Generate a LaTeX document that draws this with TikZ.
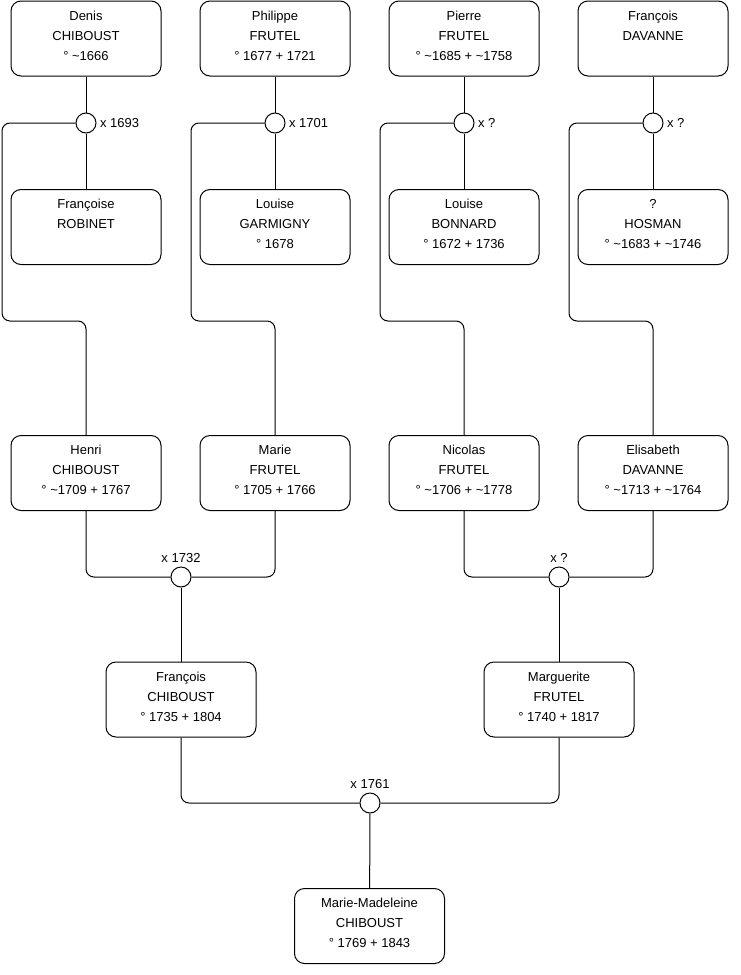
\documentclass[tikz,border=0pt]{standalone}
\usepackage{fontspec}
\setmainfont{Liberation Sans}
\usepackage{tikz}
\newcommand{\abt}{\textasciitilde}
\newcommand{\fiche}[3]{%
  \begin{minipage}[c][75pt][t]{150pt}
  \centering\rule{0pt}{19pt}#1\\#2\\#3
  \end{minipage}}
\tikzset{
  individu/.style={draw, rounded corners=10pt, inner sep=0pt, line width=1pt},
  union/.style={draw, circle, minimum size=20pt, inner sep=0pt, fill=white, line width=1pt},
  lien/.style={line width=1pt, rounded corners=8pt},
}

\begin{document}
\begin{tikzpicture}[x=1pt, y=-1pt, font=\fontsize{13}{20}\selectfont]
\useasboundingbox (0,0) rectangle (740,975);
% generation 1
\node[individu] (denis) at (86,38.5) {\fiche{Denis}{CHIBOUST}{° \abt1666}};
\node[individu] (philippe) at (275,38.5) {\fiche{Philippe}{FRUTEL}{° 1677 + 1721}};
\node[individu] (pierre) at (464,38.5) {\fiche{Pierre}{FRUTEL}{° \abt1685 + \abt1758}};
\node[individu] (francoisd) at (653,38.5) {\fiche{François}{DAVANNE}{}};
% unions
\node[union, label={right:x 1693}] (u1) at (86,123) {};
\node[union, label={right:x 1701}] (u2) at (275,123) {};
\node[union, label={right:x ?}] (u3) at (464,123) {};
\node[union, label={right:x ?}] (u4) at (653,123) {};
% spouses
\node[individu] (francoise) at (86,227) {\fiche{Françoise}{ROBINET}{}};
\node[individu] (louiseg) at (275,227) {\fiche{Louise}{GARMIGNY}{° 1678}};
\node[individu] (louiseb) at (464,227) {\fiche{Louise}{BONNARD}{° 1672 + 1736}};
\node[individu] (hosman) at (653,227) {\fiche{?}{HOSMAN}{° \abt1683 + \abt1746}};
% generation 2
\node[individu] (henri) at (86,473) {\fiche{Henri}{CHIBOUST}{° \abt1709 + 1767}};
\node[individu] (marie) at (275,473) {\fiche{Marie}{FRUTEL}{° 1705 + 1766}};
\node[individu] (nicolas) at (464,473) {\fiche{Nicolas}{FRUTEL}{° \abt1706 + \abt1778}};
\node[individu] (elisabeth) at (653,473) {\fiche{Elisabeth}{DAVANNE}{° \abt1713 + \abt1764}};
\node[union, label={above:x 1732}] (u5) at (181,577) {};
\node[union, label={above:x ?}] (u6) at (559,577) {};
% generation 3
\node[individu] (francoisc) at (181,699.5) {\fiche{François}{CHIBOUST}{° 1735 + 1804}};
\node[individu] (marguerite) at (559,699.5) {\fiche{Marguerite}{FRUTEL}{° 1740 + 1817}};
\node[union, label={above:x 1761}] (u7) at (370,803) {};
% generation 4
\node[individu] (mariemad) at (369.5,926) {\fiche{Marie-Madeleine}{CHIBOUST}{° 1769 + 1843}};

% bends of the child lines
\coordinate (k1) at (2,321);
\coordinate (k2) at (191,321);
\coordinate (k3) at (380,321);
\coordinate (k4) at (569,321);

\draw[lien] (denis) -- (u1) -- (francoise);
\draw[lien] (philippe) -- (u2) -- (louiseg);
\draw[lien] (pierre) -- (u3) -- (louiseb);
\draw[lien] (francoisd) -- (u4) -- (hosman);
\draw[lien] (u1.west) -| (k1) -| (henri.north);
\draw[lien] (u2.west) -| (k2) -| (marie.north);
\draw[lien] (u3.west) -| (k3) -| (nicolas.north);
\draw[lien] (u4.west) -| (k4) -| (elisabeth.north);

\draw[lien] (henri.south) |- (u5.west);
\draw[lien] (marie.south) |- (u5.east);
\draw[lien] (u5) -- (francoisc);
\draw[lien] (nicolas.south) |- (u6.west);
\draw[lien] (elisabeth.south) |- (u6.east);
\draw[lien] (u6) -- (marguerite);

\draw[lien] (francoisc.south) |- (u7.west);
\draw[lien] (marguerite.south) |- (u7.east);
\draw[lien] (u7) -- (mariemad);
\end{tikzpicture}
\end{document}
